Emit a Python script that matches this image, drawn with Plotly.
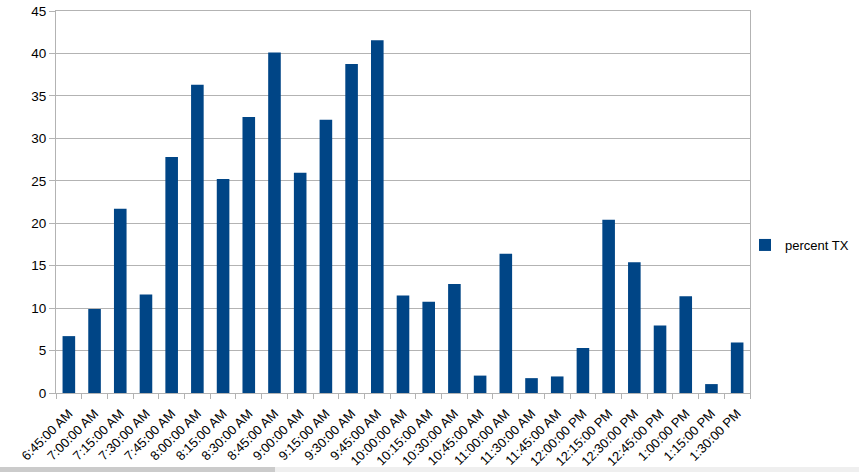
import plotly.graph_objects as go

categories = ["6:45:00 AM", "7:00:00 AM", "7:15:00 AM", "7:30:00 AM", "7:45:00 AM",
              "8:00:00 AM", "8:15:00 AM", "8:30:00 AM", "8:45:00 AM", "9:00:00 AM",
              "9:15:00 AM", "9:30:00 AM", "9:45:00 AM", "10:00:00 AM", "10:15:00 AM",
              "10:30:00 AM", "10:45:00 AM", "11:00:00 AM", "11:30:00 AM", "11:45:00 AM",
              "12:00:00 PM", "12:15:00 PM", "12:30:00 PM", "12:45:00 PM", "1:00:00 PM",
              "1:15:00 PM", "1:30:00 PM"]
percent_tx = [6.7, 9.9, 21.7, 11.6, 27.8, 36.3, 25.2, 32.5, 40.1, 25.95,
              32.2, 38.75, 41.55, 11.5, 10.75, 12.85, 2.05, 16.4, 1.75, 1.95,
              5.3, 20.4, 15.4, 7.95, 11.4, 1.05, 5.95]
series_name = "percent TX"
y_ticks = [0, 5, 10, 15, 20, 25, 30, 35, 40, 45]

W, H = 859, 472
L, R, T, B = 56, 109, 11, 79
PW, PH = W - L - R, H - T - B

fig = go.Figure()
fig.add_trace(go.Bar(x=categories, y=percent_tx, name=series_name,
                     marker=dict(color="#004586", line=dict(width=0))))

grid = "#b3b3b3"
fig.update_layout(
    width=W, height=H,
    margin=dict(l=L, r=R, t=T, b=B, pad=0, autoexpand=False),
    paper_bgcolor="white", plot_bgcolor="white",
    font=dict(family="Liberation Sans, Arial, sans-serif", size=13, color="#000000"),
    bargap=0.51,
    showlegend=True,
    legend=dict(xref="container", yref="container", x=745 / W, xanchor="left",
                y=1 - 245 / H, yanchor="middle",
                font=dict(size=13), itemwidth=30, bgcolor="rgba(0,0,0,0)"),
    xaxis=dict(type="category", tickangle=-45, showgrid=False,
               showline=True, linecolor=grid, linewidth=1, mirror=True,
               ticks="outside", ticklen=5, tickcolor=grid, tickson="boundaries",
               tickfont=dict(size=13), ticklabelstandoff=7, automargin=False),
    yaxis=dict(range=[0, 45], tickvals=y_ticks, showgrid=True, gridcolor=grid,
               gridwidth=1, zeroline=False, showline=True, linecolor=grid,
               linewidth=1, mirror=True, ticks="outside", ticklen=6, tickcolor=grid,
               tickfont=dict(size=13.5), automargin=False),
    shapes=[
        dict(type="rect", xref="paper", yref="paper",
             x0=-L / PW, x1=(275 - L) / PW, y0=-B / PH, y1=-(B - 5) / PH,
             fillcolor="#cbcbcb", line=dict(width=0), layer="below"),
        dict(type="rect", xref="paper", yref="paper",
             x0=(275 - L) / PW, x1=(W - L) / PW, y0=-B / PH, y1=-(B - 5) / PH,
             fillcolor="#efefef", line=dict(width=0), layer="below"),
    ],
)

fig.write_html("out.html", config={"displayModeBar": False},
               post_script="document.body.style.margin='0';document.body.style.overflow='hidden';")
